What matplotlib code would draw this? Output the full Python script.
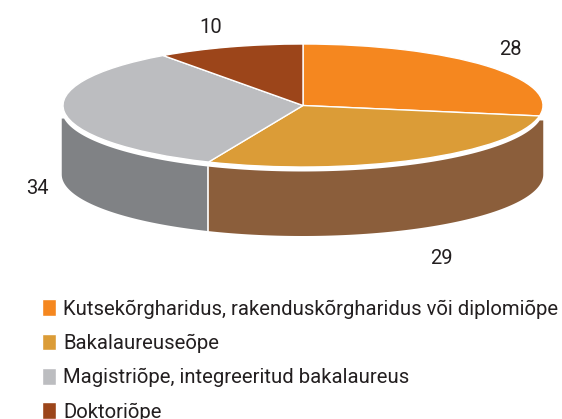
import numpy as np
import matplotlib
matplotlib.use("Agg")
import matplotlib.pyplot as plt

# Andmed
kategooriad = ["Kutsekõrgharidus, rakenduskõrgharidus või diplomiõpe", "Bakalaureuseõpe",
               "Magistriõpe, integreeritud bakalaureus", "Doktoriõpe"]
vaartused = [28, 29, 34, 10]
varvid = ["#F5871F", "#DB9C37", "#BCBDC0", "#9C451A"]
seina_varvid = ["#8B5E3B", "#808285"]
sildi_kohad = [(510, 49.5), (441, 258.5), (37, 188.5), (211, 27.5)]

W, H = 562, 419
CX, CY, RX, RY = 303, 105.5, 240, 61.5  # ellipsi kese ja raadiused pikslites
SEIN = 64.5  # seina korgus
VAHE = 4.5   # valge vahe kaane ja seina vahel

plt.rcParams["font.family"] = "Roboto"
fig = plt.figure(figsize=(W / 100, H / 100), dpi=100)
ax = fig.add_axes([0, 0, 1, 1])

# Kaas: uhikringi venitab telgede skaala ellipsiks
wedges, _ = ax.pie(vaartused, colors=varvid, startangle=90, counterclock=False,
                   wedgeprops={"edgecolor": "white", "linewidth": 1.0})
ax.set_aspect("auto")
ax.set_xlim(-CX / RX, (W - CX) / RX)
ax.set_ylim((CY - H) / RY, CY / RY)

# Seinad: nahtav on ainult 2. ja 3. sektori esikylg
nurgad = 90 - 360 * np.cumsum([0] + vaartused) / sum(vaartused)
yl = -VAHE / RY
alla = yl - SEIN / RY
sein_x = lambda t: (302.5 - CX) / RX + 240.75 / RX * np.cos(t)
piirid = [(nurgad[2], nurgad[1]), (-180, nurgad[2])]
for (a, b), varv in zip(piirid, seina_varvid):
    # ulemine serv jaab servades valge vahe parast veidi lyhemaks
    t_yl = np.radians(np.linspace(min(b, -8), max(a, -172), 80))
    t_al = np.radians(np.linspace(a, min(b, 0) if b < -30 else 0, 80))
    x = list(sein_x(t_yl)) + list(sein_x(t_al))
    y = list(np.sin(t_yl) + yl) + list(np.sin(t_al) + alla)
    if a == -180:
        x.insert(80, sein_x(np.pi))
        y.insert(80, y[79])
    else:
        x.insert(0, sein_x(0))
        y.insert(0, y[0])
    ax.fill(x, y, color=varv, lw=0, zorder=0.5)

t = np.radians(nurgad[2])
ax.plot([sein_x(t)] * 2, [np.sin(t) + yl, np.sin(t) + alla], color="white", lw=1.2, zorder=1.5)

for v, (px, py) in zip(vaartused, sildi_kohad):
    fig.text(px / W, 1 - py / H, str(v), fontsize=14.5, color="#231F20", ha="center", va="center")

fig.legend(wedges, kategooriad, loc="upper left", bbox_to_anchor=(41.5 / W, 1 - 299.5 / H),
           frameon=False, fontsize=14.6, labelcolor="#231F20", borderpad=0, borderaxespad=0,
           handlelength=0.7, handleheight=0.88, handletextpad=0.36, labelspacing=0.74)

fig.savefig("out.png", dpi=100)
